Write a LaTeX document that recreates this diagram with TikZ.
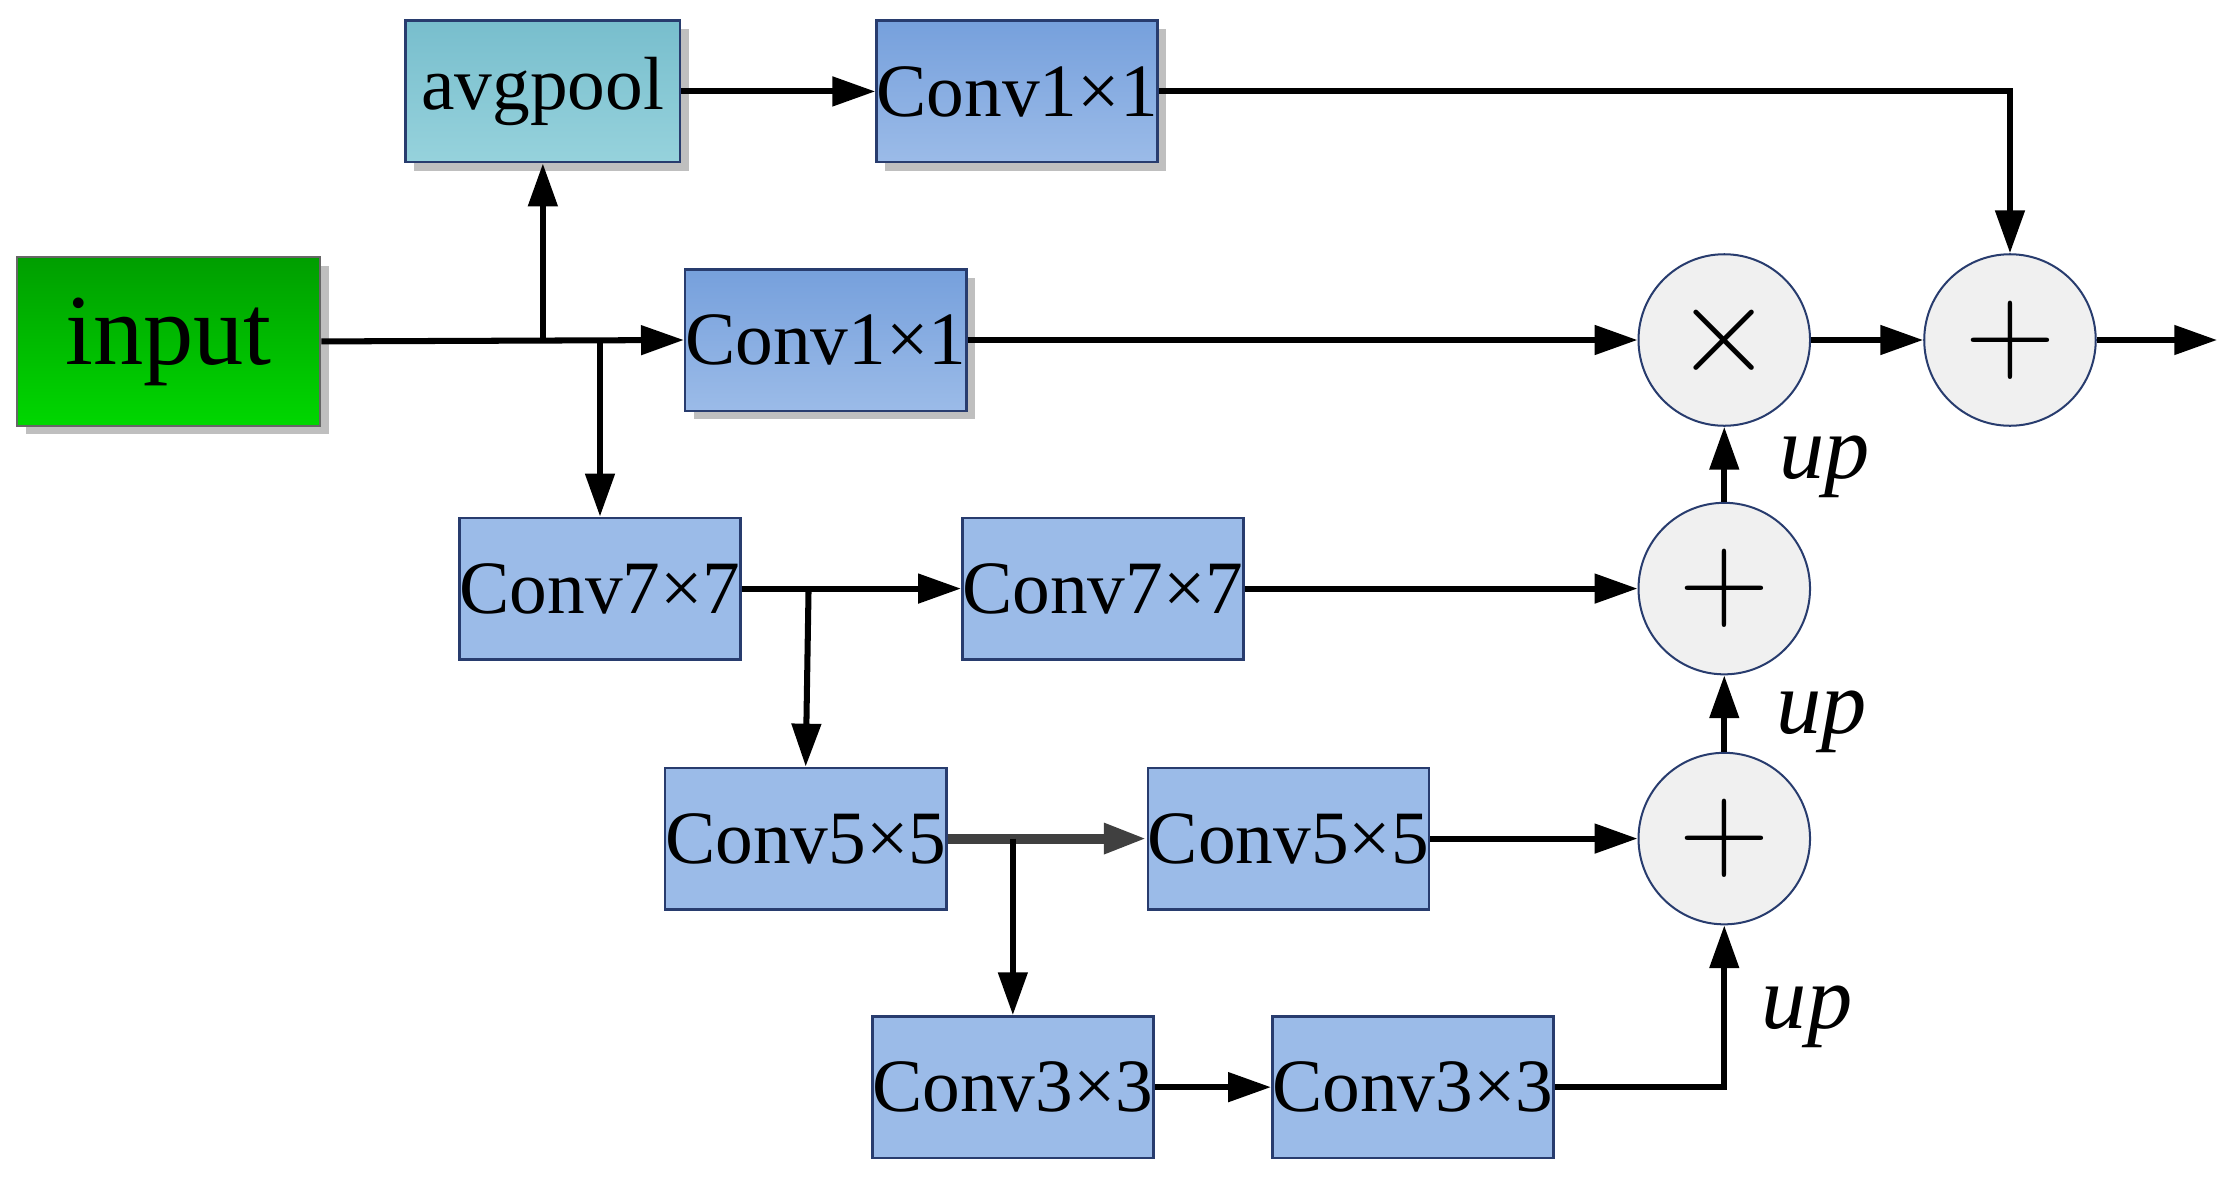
\documentclass[tikz,border=0pt]{standalone}
\usepackage{fontspec}
\setmainfont{Liberation Serif}
\usetikzlibrary{arrows.meta,shadows}
\definecolor{bx}{RGB}{155,187,232}
\definecolor{bxt}{RGB}{118,160,220}
\definecolor{edge}{RGB}{40,60,110}
\begin{document}
\begin{tikzpicture}[x=0.01cm,y=-0.01cm,
 box/.style={draw=edge,line width=0.5pt,minimum width=1.92cm,minimum height=0.99cm,font=\fontsize{15}{15}\selectfont,inner sep=0pt},
 flat/.style={box,fill=bx},
 grad/.style={box,top color=bxt,bottom color=bx,drop shadow={shadow xshift=0.06cm,shadow yshift=-0.06cm,fill=black!25,opacity=1}},
 op/.style={circle,draw=edge,fill=black!6,minimum size=1.2cm,inner sep=0pt,font=\fontsize{26}{26}\selectfont},
 ar/.style={-{Triangle[length=0.3cm,width=0.2cm]},line width=1.2pt},
 ln/.style={line width=1.2pt},
 lbl/.style={font=\itshape\fontsize{18}{18}\selectfont}]
\useasboundingbox (0,0) rectangle (1568,833);
\node[box,minimum width=2.12cm,minimum height=1.18cm,top color=green!62!black,bottom color={rgb,255:red,0;green,215;blue,0},draw=black!60,drop shadow={shadow xshift=0.06cm,shadow yshift=-0.06cm,fill=black!25,opacity=1},font=\fontsize{20}{20}\selectfont] (in) at (118,239) {input};
\node[grad,top color={rgb,255:red,120;green,190;blue,205},bottom color={rgb,255:red,150;green,210;blue,220}] (avg) at (380,64) {avgpool};
\node[grad] (c1t) at (712,64) {Conv1×1};
\node[grad] (c1m) at (578,238) {Conv1×1};
\node[flat] (c7a) at (420,412) {Conv7×7};
\node[flat] (c7b) at (772,412) {Conv7×7};
\node[flat] (c5a) at (564,587) {Conv5×5};
\node[flat] (c5b) at (902,587) {Conv5×5};
\node[flat] (c3a) at (709,761) {Conv3×3};
\node[flat] (c3b) at (989,761) {Conv3×3};
\node[op] (mul) at (1207,238) {$\times$};
\node[op] (pt) at (1407,238) {$+$};
\node[op] (p2) at (1207,412) {$+$};
\node[op] (p3) at (1207,587) {$+$};
\coordinate (o) at (1552,238);
\coordinate (b1) at (380,238);
\coordinate (b2) at (420,238);
\coordinate (b3) at (566,412);
\coordinate (b4) at (709,587);
\draw[ar] (in.east) -- (c1m.west);
\draw[ar] (b1) -- (avg.south);
\draw[ar] (b2) -- (c7a.north);
\draw[ar] (avg) -- (c1t);
\draw[ar] (c1t.east) -| (pt.north);
\draw[ar] (c1m) -- (mul);
\draw[ar] (mul) -- (pt);
\draw[ar] (pt) -- (o);
\draw[ar] (c7a) -- (c7b);
\draw[ar] (b3) -- (c5a.north);
\draw[ar] (c7b) -- (p2);
\draw[ar,black!75,line width=2pt] (c5a) -- (c5b);
\draw[ar] (b4) -- (c3a.north);
\draw[ar] (c5b) -- (p3);
\draw[ar] (c3a) -- (c3b);
\draw[ar] (c3b.east) -| (p3.south);
\draw[ar] (p3) -- (p2);
\draw[ar] (p2) -- (mul);
\node[lbl] (u1) at (1277,327) {up};
\node[lbl] (u2) at (1275,505) {up};
\node[lbl] (u3) at (1265,712) {up};
\end{tikzpicture}
\end{document}
